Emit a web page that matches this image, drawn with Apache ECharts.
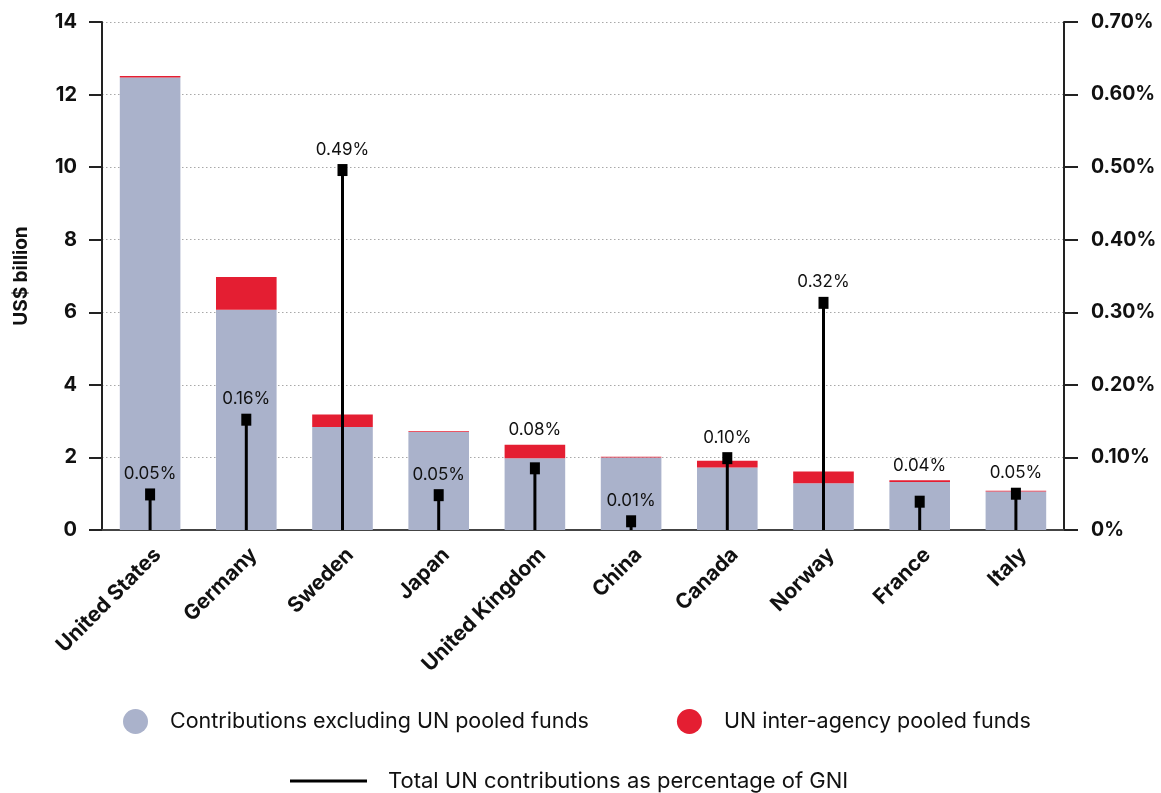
<!DOCTYPE html>
<html>
<head>
<meta charset="utf-8">
<script src="https://cdn.jsdelivr.net/npm/echarts@6/dist/echarts.min.js"></script>
<style>
  html, body { margin: 0; padding: 0; background: #fff; }
  #main { width: 1161px; height: 793px; }
</style>
</head>
<body>
<div id="main"></div>
<script>
const countries = ['United States', 'Germany', 'Sweden', 'Japan', 'United Kingdom', 'China', 'Canada', 'Norway', 'France', 'Italy']
// US$ billion
const excludingPooled = [12.47, 6.07, 2.84, 2.70, 1.98, 2.00, 1.72, 1.29, 1.32, 1.06]
const pooledFunds = [0.04, 0.90, 0.34, 0.02, 0.37, 0.02, 0.19, 0.32, 0.05, 0.02]
// % of GNI
const gniShare = [0.049, 0.152, 0.496, 0.048, 0.085, 0.012, 0.099, 0.313, 0.039, 0.050]
const gniLabels = ['0.05%', '0.16%', '0.49%', '0.05%', '0.08%', '0.01%', '0.10%', '0.32%', '0.04%', '0.05%']

const font = 'Inter, "Noto Sans", sans-serif'
const ink = '#111'
const greyBar = '#aab2cb'
const redBar = '#e41e32'
const gniName = 'Total UN contributions as percentage of GNI'
const markerH = 12

const chart = echarts.init(document.getElementById('main'))

const option = {
    animation: false,
    textStyle: { fontFamily: font },
    grid: { left: 102, right: 97, top: 22, bottom: 263 },
    legend: [
        {
            top: 704,
            left: 118,
            icon: 'circle',
            itemWidth: 25,
            itemHeight: 25,
            itemGap: 88,
            textStyle: { fontSize: 21.5, color: ink, fontFamily: font, padding: [0, 0, 0, 17] },
            data: ['Contributions excluding UN pooled funds', 'UN inter-agency pooled funds']
        },
        {
            top: 765,
            left: 285,
            itemWidth: 77,
            itemHeight: 3,
            textStyle: { fontSize: 22, color: ink, fontFamily: font, padding: [0, 0, 0, 16] },
            data: [{ name: gniName, icon: 'rect' }]
        }
    ],
    xAxis: [
        {
            type: 'category',
            data: countries,
            axisLine: { lineStyle: { color: '#444', width: 2 } },
            axisTick: { show: false },
            axisLabel: {
                rotate: 45,
                margin: 14,
                verticalAlign: 'top',
                fontSize: 21,
                fontWeight: 'bold',
                color: ink,
                fontFamily: font
            }
        },
        {
            type: 'category',
            data: countries,
            show: false
        }
    ],
    yAxis: [
        {
            type: 'value',
            name: 'US$ billion',
            nameLocation: 'middle',
            nameGap: 71,
            nameTextStyle: { fontSize: 19, fontWeight: 'bold', color: ink, fontFamily: font },
            min: 0,
            max: 14,
            interval: 2,
            axisLine: { show: true, lineStyle: { color: '#222', width: 2 } },
            axisTick: { show: true, length: 13, lineStyle: { color: '#222', width: 2 } },
            axisLabel: { margin: 25, fontSize: 20, fontWeight: 'bold', color: ink, fontFamily: font },
            splitLine: { lineStyle: { color: '#a8a8a8', type: [1.5, 2.5], width: 1 } }
        },
        {
            type: 'value',
            position: 'right',
            min: 0,
            max: 0.7,
            interval: 0.1,
            axisLine: { show: true, lineStyle: { color: '#222', width: 2 } },
            axisTick: { show: true, length: 14, lineStyle: { color: '#222', width: 2 } },
            axisLabel: {
                margin: 27,
                fontSize: 19.5,
                fontWeight: 'bold',
                color: ink,
                fontFamily: font,
                formatter: v => v === 0 ? '0%' : v.toFixed(2) + '%'
            },
            splitLine: { show: false }
        }
    ],
    series: [
        {
            name: 'Contributions excluding UN pooled funds',
            type: 'bar',
            stack: 'total',
            barWidth: '63%',
            itemStyle: { color: greyBar },
            data: excludingPooled
        },
        {
            name: 'UN inter-agency pooled funds',
            type: 'bar',
            stack: 'total',
            itemStyle: { color: redBar },
            data: pooledFunds
        },
        {
            name: gniName,
            type: 'bar',
            xAxisIndex: 1,
            yAxisIndex: 1,
            barWidth: 3,
            itemStyle: { color: '#000' },
            data: gniShare
        },
        {
            name: gniName,
            type: 'scatter',
            xAxisIndex: 1,
            yAxisIndex: 1,
            symbol: 'rect',
            symbolSize: [10, markerH],
            itemStyle: { color: '#000', opacity: 1 },
            label: {
                show: true,
                position: 'top',
                distance: 6,
                fontSize: 17,
                color: ink,
                fontFamily: font,
                formatter: p => gniLabels[p.dataIndex]
            },
            data: gniShare
        }
    ]
}

chart.setOption(option)

// lift a percentage label above its bar when the bar top would cut through it
const lifted = gniShare.map((v, i) => {
    const markerTop = chart.convertToPixel({ yAxisIndex: 1 }, v) - markerH / 2
    const barTop = chart.convertToPixel({ yAxisIndex: 0 }, excludingPooled[i] + pooledFunds[i])
    const gap = markerTop - barTop
    if (gap > 0 && gap < 30) {
        return { value: v, label: { offset: [0, -gap] } }
    }
    return v
})
chart.setOption({ series: [{}, {}, {}, { data: lifted }] })
</script>
</body>
</html>
